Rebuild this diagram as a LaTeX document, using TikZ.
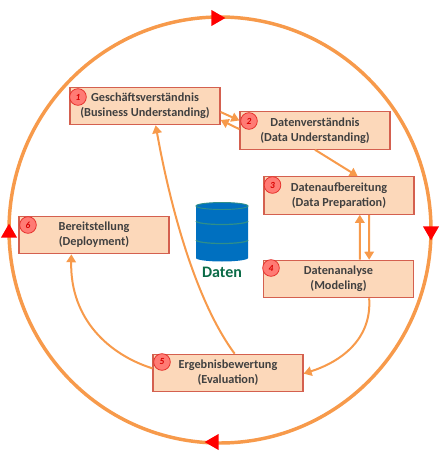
\documentclass[tikz,border=0pt]{standalone}
\usepackage{fontspec}
\setmainfont{Carlito}
\usepackage{tikz}
\usetikzlibrary{arrows.meta,shapes.geometric}
\definecolor{ringorange}{HTML}{F79A4B}
\definecolor{boxfill}{HTML}{FCD8BA}
\definecolor{boxline}{HTML}{D4604F}
\definecolor{badgefill}{HTML}{FF7B74}
\definecolor{badgeline}{HTML}{E5302B}
\definecolor{dbblue}{HTML}{0070C0}
\definecolor{dbline}{HTML}{2F8F8A}
\definecolor{dbgreen}{HTML}{0B6B47}
\definecolor{boxtext}{HTML}{404040}
\tikzset{
  phasebox/.style={draw=boxline,fill=boxfill,line width=.9pt,minimum width=112.5pt,minimum height=28pt,
    inner sep=0pt,align=center,font=\fontsize{9.2}{11.4}\selectfont\bfseries,text=boxtext,
    execute at begin node=\vspace*{1.5pt}},
  badge/.style={circle,draw=badgeline,fill=badgefill,line width=.6pt,minimum size=12.5pt,inner sep=0pt,
    font=\fontsize{7}{7}\selectfont\bfseries\itshape,text=red!85!black},
  marker/.style={regular polygon,regular polygon sides=3,fill=red,inner sep=0pt,minimum size=14pt},
  flow/.style={draw=ringorange,line width=1.5pt,-{Triangle[length=6pt,width=7pt]}},
}
\begin{document}
\begin{tikzpicture}[x=.75pt,y=-.75pt]
\useasboundingbox (0,0) rectangle (439,453);
% outer cycle
\draw[ringorange,line width=2.6pt] (220,230) ellipse [x radius=211,y radius=213];
\node[marker,shape border rotate=-90] (mtop) at (216,18) {};
\node[marker,shape border rotate=180] (mright) at (431,231) {};
\node[marker,shape border rotate=90] (mbottom) at (214,442) {};
\node[marker] (mleft) at (9,233) {};
% phases
\node[phasebox] (business) at (145,106) {Geschäftsverständnis\\(Business Understanding)};
\node[phasebox] (data) at (315,130.5) {Datenverständnis\\(Data Understanding)};
\node[phasebox] (prep) at (339,195.5) {Datenaufbereitung\\(Data Preparation)};
\node[phasebox] (model) at (338.5,279) {Datenanalyse\\(Modeling)};
\node[phasebox] (eval) at (228,373) {Ergebnisbewertung\\(Evaluation)};
\node[phasebox] (deploy) at (94,235) {Bereitstellung\\(Deployment)};
% numbers
\node[badge] (n1) at (78,97) {1};
\node[badge] (n2) at (249,121) {2};
\node[badge] (n3) at (272.5,185) {3};
\node[badge] (n4) at (271,268) {4};
\node[badge] (n5) at (162,362) {5};
\node[badge] (n6) at (28,225) {6};
% connectors
\draw[flow] ([yshift=-4.5pt]business.east) -- ([yshift=7.5pt]data.west);
\draw[flow] ([yshift=1pt]data.west) -- ([yshift=-10.5pt]business.east);
\draw[flow] (data.south) -- ([xshift=14pt]prep.north);
\draw[flow] ([xshift=16pt]model.north) -- ([xshift=15.6pt]prep.south);
\draw[flow] ([xshift=22.5pt]prep.south) -- ([xshift=23pt]model.north);
\draw[flow] ([xshift=23pt]model.south) .. controls (372,340) and (340,362) .. ([yshift=-.5pt]eval.east);
\draw[flow] ([xshift=5pt]eval.north) .. controls (195,300) and (170,205) .. ([xshift=8pt]business.south);
\draw[flow] ([yshift=3.5pt]eval.west) .. controls (110,355) and (70,320) .. ([xshift=-17pt]deploy.south);
% database
\fill[dbblue] (196,206) -- (196,258) arc[start angle=180,end angle=0,x radius=26,y radius=3.5] -- (248,206) arc[start angle=0,end angle=-180,x radius=26,y radius=3.5] -- cycle;
\draw[dbline,line width=.7pt] (222,206) ellipse [x radius=26,y radius=3.5];
\draw[dbline,line width=.9pt] (196,221) arc[start angle=180,end angle=0,x radius=26,y radius=3.5];
\draw[dbline,line width=.9pt] (196,240) arc[start angle=180,end angle=0,x radius=26,y radius=3.5];
\node[text=dbgreen,font=\fontsize{12}{14}\selectfont\bfseries] (dbname) at (222,272) {Daten};
\end{tikzpicture}
\end{document}
